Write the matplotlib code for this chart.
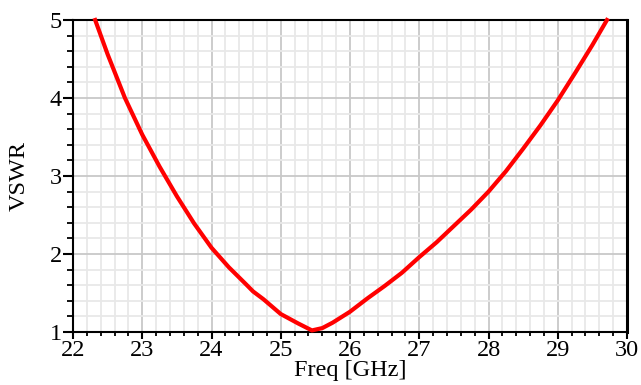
import matplotlib
matplotlib.use('Agg')
import matplotlib.pyplot as plt
from matplotlib.ticker import MultipleLocator

# VSWR curve
freq_ghz = [22.32, 22.5, 22.75, 23.0, 23.25, 23.5, 23.75, 24.0, 24.25,
            24.5, 24.6, 24.75, 25.0, 25.25, 25.45, 25.6, 25.75, 26.0, 26.25,
            26.5, 26.75, 27.0, 27.25, 27.5, 27.75, 28.0, 28.25, 28.5, 28.75,
            29.0, 29.25, 29.5, 29.71]
vswr = [5.0, 4.56, 4.0, 3.53, 3.12, 2.74, 2.39, 2.08, 1.83,
        1.61, 1.52, 1.42, 1.23, 1.11, 1.02, 1.05, 1.12, 1.26, 1.43,
        1.59, 1.76, 1.96, 2.15, 2.36, 2.57, 2.8, 3.06, 3.35, 3.65,
        3.97, 4.32, 4.68, 5.0]

x_ticks = [22, 23, 24, 25, 26, 27, 28, 29, 30]
y_ticks = [1, 2, 3, 4, 5]

plt.rcParams['font.family'] = ['Liberation Serif', 'DejaVu Serif']
fs = 17.5

fig = plt.figure(figsize=(6.41, 3.85), dpi=100)
ax = fig.add_axes([0.1139, 0.1377, 0.8643, 0.8103])

ax.plot(freq_ghz, vswr, color='#ff0000', linewidth=3, zorder=3, clip_on=False)

ax.set_xlim(22, 30)
ax.set_ylim(1, 5)
ax.set_xticks(x_ticks)
ax.set_yticks(y_ticks)
ax.xaxis.set_minor_locator(MultipleLocator(0.2))
ax.yaxis.set_minor_locator(MultipleLocator(0.2))

# grid like the simulator output
ax.grid(which='major', color='#c8c8c8', linewidth=1.3)
ax.grid(which='minor', color='#e8e8e8', linewidth=1.3)
ax.set_axisbelow(True)

ax.tick_params(which='major', direction='out', length=7, width=1.5,
               labelsize=fs, pad=1, color='black')
ax.tick_params(which='minor', direction='out', length=4, width=1.3,
               color='black')
ax.tick_params(axis='x', which='major', length=5)
ax.tick_params(axis='x', which='minor', length=3)

for side in ['left', 'bottom', 'top']:
    ax.spines[side].set_linewidth(1.5)
ax.spines['right'].set_linewidth(2.2)

ax.set_xlabel('Freq [GHz]', fontsize=fs, labelpad=-1)
ax.set_ylabel('VSWR', fontsize=fs, labelpad=14)

fig.savefig('out.png', dpi=100)
